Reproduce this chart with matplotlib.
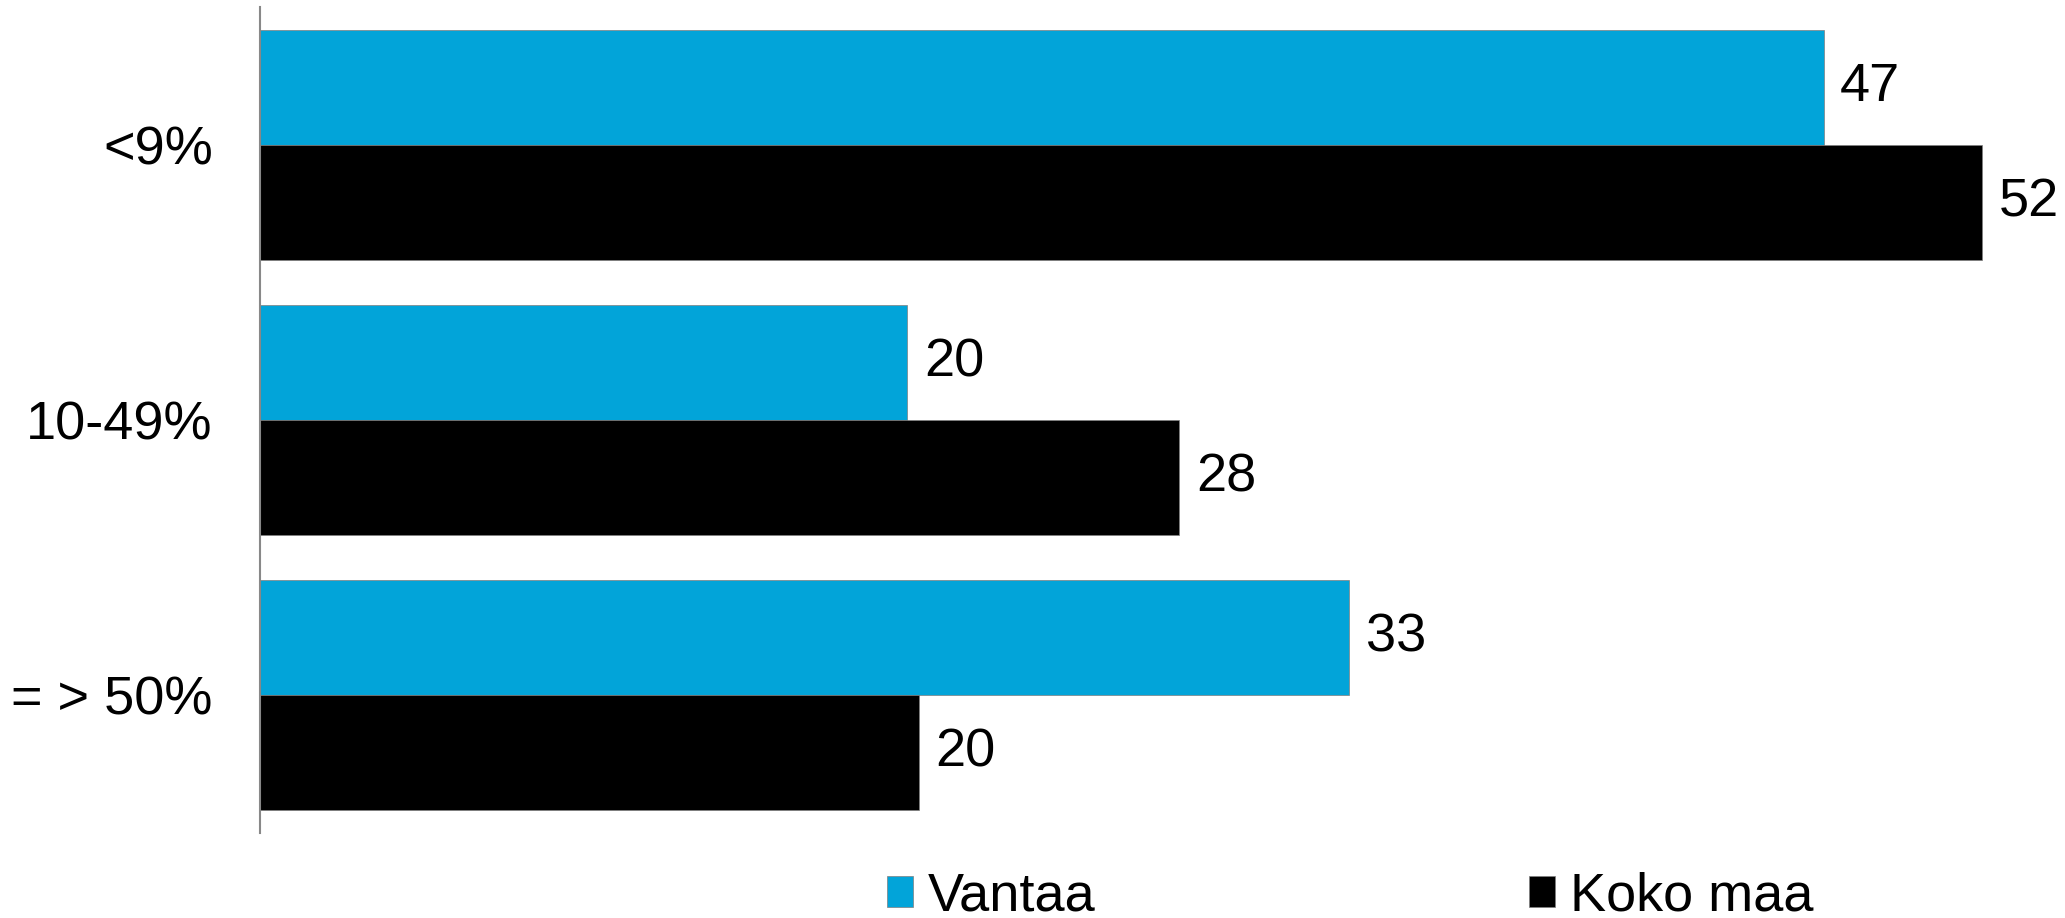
import numpy as np
import matplotlib.pyplot as plt

plt.rcParams['font.family'] = ['Liberation Sans', 'DejaVu Sans']

categories = ['<9%', '10-49%', '= > 50%']
vantaa = [47.38, 19.62, 33.0]
koko_maa = [52.18, 27.86, 19.97]

blue = '#02A4D9'
black = '#000000'

W, H = 2065, 918
fig = plt.figure(figsize=(W / 100, H / 100), dpi=100)
ax = fig.add_axes([260 / W, 1 - 833 / H, (W - 260) / W, 826 / H])

y = np.arange(len(categories))
h = 0.418
ax.barh(y - h / 2, vantaa, height=h, color=blue, edgecolor='#7f7f7f', linewidth=0.5, label='Vantaa')
ax.barh(y + h / 2, koko_maa, height=h, color=black, edgecolor='#7f7f7f', linewidth=0.5, label='Koko maa')

for i in range(len(categories)):
    ax.annotate(f'{vantaa[i]:.0f}', (vantaa[i], y[i] - h / 2), xytext=(12, 0), textcoords='offset points',
                va='center', ha='left', fontsize=39)
    ax.annotate(f'{koko_maa[i]:.0f}', (koko_maa[i], y[i] + h / 2), xytext=(12, 0), textcoords='offset points',
                va='center', ha='left', fontsize=39)

ax.set_xlim(0, (W - 260) / 33.0)
ax.set_ylim(2.5, -0.5)
ax.set_yticks(y)
ax.set_yticklabels(categories, fontsize=39)
ax.tick_params(axis='y', length=0, pad=34)
ax.set_xticks([])
for s in ['top', 'right', 'bottom']:
    ax.spines[s].set_visible(False)
ax.spines['left'].set_color('#888888')
ax.spines['left'].set_linewidth(1.5)

fig.legend(loc='lower left', bbox_to_anchor=(887 / W, -0.004), ncol=2, frameon=False,
           fontsize=39, handlelength=0.48, handleheight=0.48, handletextpad=0.28,
           columnspacing=8.0, borderpad=0, borderaxespad=0)

fig.savefig('out.png', dpi=100)
